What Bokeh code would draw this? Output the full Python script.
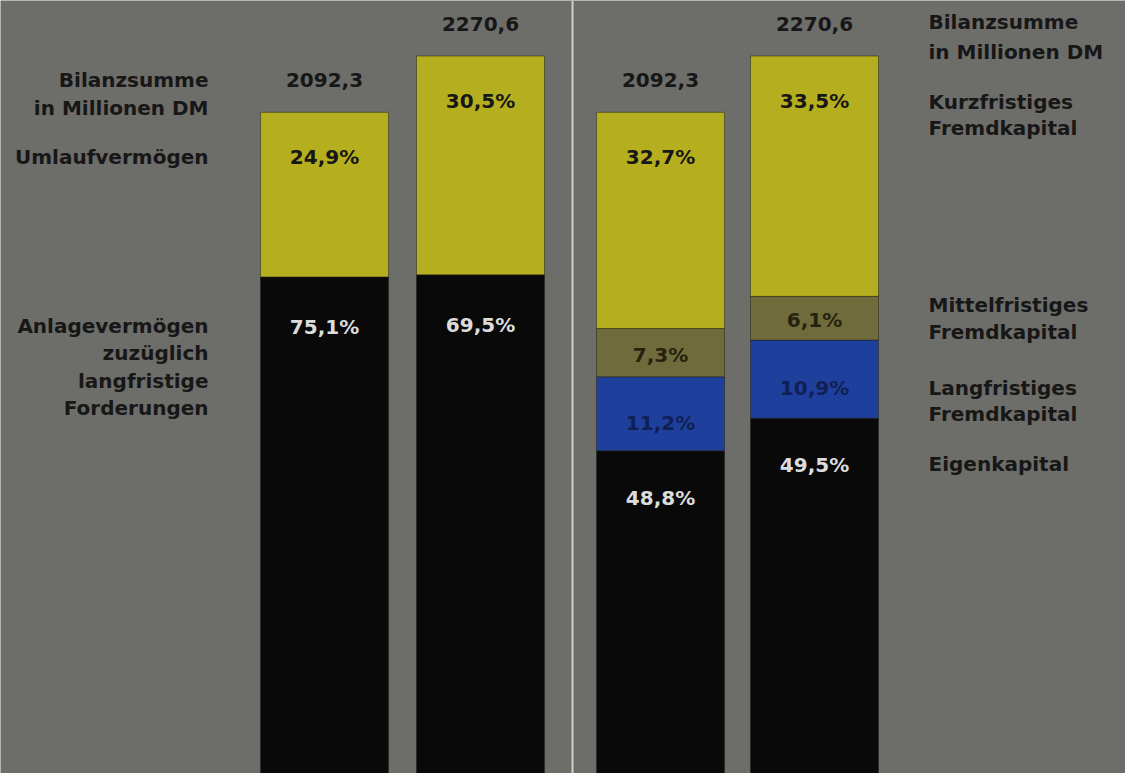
import numpy as np
from bokeh.plotting import figure
from bokeh.models import ColumnDataSource, Range1d, Span
from bokeh.core.properties import value
from bokeh.embed import file_html
from bokeh.resources import INLINE

# ---------------- data ----------------
bilanzsumme = [2092.3, 2270.6]                 # Millionen DM, two years
bilanzsumme_text = ["2092,3", "2270,6"]
# Aktiva (left panel), from bottom to top
anlagevermoegen = [75.1, 69.5]                 # %
umlaufvermoegen = [24.9, 30.5]                 # %
# Passiva (right panel), from bottom to top
eigenkapital = [48.8, 49.5]                    # %
langfristiges_fk = [11.2, 10.9]                # %
mittelfristiges_fk = [7.3, 6.1]                # %
kurzfristiges_fk = [32.7, 33.5]                # %

# ---------------- layout / style ----------------
W, H = 1125, 773
PX = 0.316                      # pixels per Mio DM
Y0 = 0.0
Y1 = H / PX
def dy(px):
    return px / PX

BG = "#6d6d69"
YELLOW = "#b5ae1e"
OLIVE = "#6f6b3b"
BLUE = "#1f3f9c"
BLACK = "#090909"
DARK = "#171717"
LIGHT = "#dcdcdc"
FONT = value("DejaVu Sans")
FS = "20px"
FSTYLE = "bold"

BAR_W = 128
left_x = [324, 480]
right_x = [660, 814]

def fmt(v):
    return ("%.1f" % v).replace(".", ",") + "%"

p = figure(width=W, height=H, output_backend="svg", toolbar_location=None,
           x_range=Range1d(0, W), y_range=Range1d(Y0, Y1),
           min_border=0, min_border_left=0, min_border_right=0,
           min_border_top=0, min_border_bottom=0)
p.background_fill_color = BG
p.border_fill_color = BG
p.outline_line_color = None
p.xgrid.visible = False
p.ygrid.visible = False
p.xaxis.visible = False
p.yaxis.visible = False

bars = dict(x=[], bottom=[], top=[], color=[])
labels = dict(x=[], y=[], text=[], color=[])

def add_panel(xs, segments):
    # segments: list of (values, fill, textcolor, mode, offset_px) bottom->top
    for i, x in enumerate(xs):
        total = bilanzsumme[i]
        base = 0.0
        for vals, fill, tcol, mode, off in segments:
            h = total * vals[i] / 100.0
            bars["x"].append(x); bars["bottom"].append(base)
            bars["top"].append(base + h); bars["color"].append(fill)
            if mode == "top":
                ly = base + h - dy(off)
            else:
                ly = base + h / 2 - dy(off)
            labels["x"].append(x); labels["y"].append(ly)
            labels["text"].append(fmt(vals[i])); labels["color"].append(tcol)
            base += h
        labels["x"].append(x); labels["y"].append(total + dy(32))
        labels["text"].append(bilanzsumme_text[i]); labels["color"].append(DARK)

add_panel(left_x, [
    (anlagevermoegen, BLACK, LIGHT, "top", 50),
    (umlaufvermoegen, YELLOW, DARK, "top", 45),
])
add_panel(right_x, [
    (eigenkapital, BLACK, LIGHT, "top", 47),
    (langfristiges_fk, BLUE, "#102055", "mid", 9),
    (mittelfristiges_fk, OLIVE, "#25230f", "mid", 2),
    (kurzfristiges_fk, YELLOW, DARK, "top", 45),
])

p.vbar(x="x", width=BAR_W, bottom="bottom", top="top", fill_color="color",
       line_color="#202018", line_alpha=0.5, line_width=1,
       source=ColumnDataSource(bars))

p.text(x="x", y="y", text="text", text_color="color", source=ColumnDataSource(labels),
       text_font=FONT, text_font_size=FS, text_font_style=FSTYLE,
       text_align="center", text_baseline="middle")

# divider between the two panels
p.add_layout(Span(location=572, dimension="height", line_color="#cfcfc6",
                  line_width=2))

# ---------------- side captions ----------------
def seg_top(vals_list, i):
    return bilanzsumme[i] * sum(v[i] for v in vals_list) / 100.0

t0 = bilanzsumme[0] + dy(32)
t1 = bilanzsumme[1] + dy(32)
left_caps = [
    ("Bilanzsumme", t0),
    ("in Millionen DM", t0 - dy(28)),
    ("Umlaufvermögen", bilanzsumme[0] - dy(45)),
]
anl_y = bilanzsumme[0] * anlagevermoegen[0] / 100.0 - dy(49)
for k, s in enumerate(["Anlagevermögen", "zuzüglich", "langfristige", "Forderungen"]):
    left_caps.append((s, anl_y - dy(27.5 * k)))

mid_center = (seg_top([eigenkapital, langfristiges_fk], 1)
              + seg_top([eigenkapital, langfristiges_fk, mittelfristiges_fk], 1)) / 2
lang_center = (seg_top([eigenkapital], 1) + seg_top([eigenkapital, langfristiges_fk], 1)) / 2
right_caps = [
    ("Bilanzsumme", t1 + dy(2)),
    ("in Millionen DM", t1 - dy(28)),
    ("Kurzfristiges", bilanzsumme[1] - dy(46)),
    ("Fremdkapital", bilanzsumme[1] - dy(72)),
    ("Mittelfristiges", mid_center + dy(13)),
    ("Fremdkapital", mid_center - dy(14)),
    ("Langfristiges", lang_center - dy(9)),
    ("Fremdkapital", lang_center - dy(35)),
    ("Eigenkapital", seg_top([eigenkapital], 1) - dy(46)),
]

p.text(x=[208] * len(left_caps), y=[c[1] for c in left_caps],
       text=[c[0] for c in left_caps], text_color=DARK, text_font=FONT,
       text_font_size=FS, text_font_style=FSTYLE,
       text_align="right", text_baseline="middle")
p.text(x=[928] * len(right_caps), y=[c[1] for c in right_caps],
       text=[c[0] for c in right_caps], text_color=DARK, text_font=FONT,
       text_font_size=FS, text_font_style=FSTYLE,
       text_align="left", text_baseline="middle")

open("out.html", "w").write(file_html(p, INLINE))
